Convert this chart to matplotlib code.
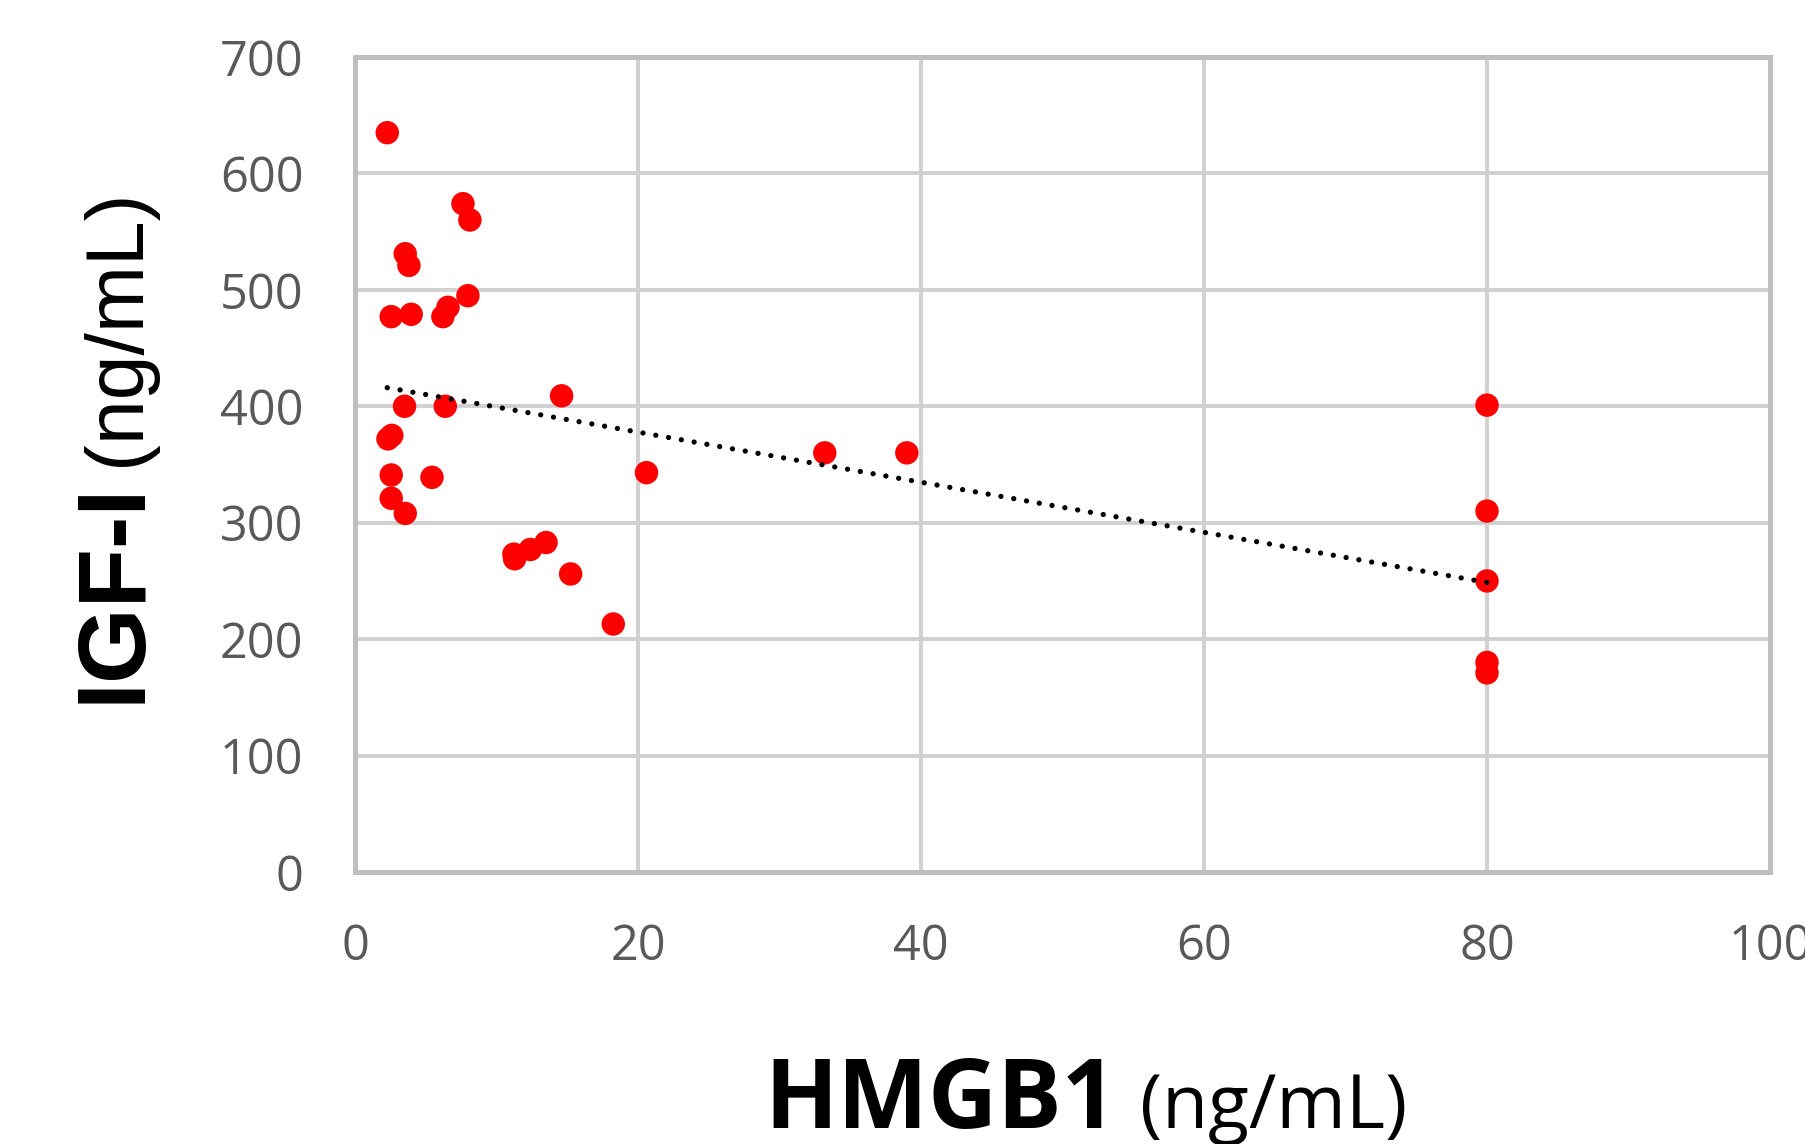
import numpy as np
import matplotlib
matplotlib.use("Agg")
import matplotlib.pyplot as plt

# HMGB1 (ng/mL) vs IGF-I (ng/mL)
hmgb1 = [2.28, 7.63, 8.12, 3.55, 3.81, 2.56, 3.97, 6.21, 6.57, 7.98,
         3.5, 6.38, 14.6, 2.33, 2.6, 2.56, 5.44, 2.56, 3.55,
         11.23, 11.28, 12.39, 13.5, 15.24, 18.25, 20.6, 33.2, 39.0,
         80, 80, 80, 80, 80]
igf1 = [635, 574, 560, 531, 521, 477, 479, 477, 485, 495,
        400, 400, 409, 372, 375, 341, 339, 321, 308,
        273, 269, 277, 283, 256, 213, 343, 360, 360,
        401, 310, 250, 180, 171]
x_ticks = [0, 20, 40, 60, 80, 100]
y_ticks = [0, 100, 200, 300, 400, 500, 600, 700]

W, H = 1806, 1144
fig = plt.figure(figsize=(W / 100, H / 100), dpi=100, facecolor="white")
ax = fig.add_axes([355 / W, 1 - 872 / H, (1770 - 355) / W, (872 - 57) / H])

ax.scatter(hmgb1, igf1, s=285, color="#ff0000", edgecolors="none", zorder=3)

# linear trendline (Excel style, dotted)
slope, icpt = np.polyfit(hmgb1, igf1, 1)
xs = np.array([min(hmgb1), max(hmgb1)])
ax.plot(xs, slope * xs + icpt, color="black", lw=3.8, ls=(0, (0.01, 2.45)),
        dash_capstyle="round", zorder=4)

ax.set_xlim(0, 100)
ax.set_ylim(0, 700)
ax.set_xticks(x_ticks)
ax.set_yticks(y_ticks)
ax.grid(True, color="#d0d0d0", lw=2.8, zorder=0)
ax.set_axisbelow(True)
for sp in ax.spines.values():
    sp.set_color("#bfbfbf")
    sp.set_linewidth(3.6)
ax.tick_params(length=0, labelsize=35, labelcolor="#595959")
ax.tick_params(axis="x", pad=36)
ax.tick_params(axis="y", pad=37)
for lab in ax.get_xticklabels() + ax.get_yticklabels():
    lab.set_fontfamily("Open Sans")

# x label: bold name + regular unit
fig.canvas.draw()
r = fig.canvas.get_renderer()
tx1 = fig.text(764 / W, 1 - 1128 / H, "HMGB1", ha="left", va="baseline",
               fontsize=69, fontweight="bold", family="Open Sans")
bb = tx1.get_window_extent(r)
fig.text((bb.x1 + 24) / W, 1 - 1128 / H, "(ng/mL)", ha="left", va="baseline",
         fontsize=54, family="Open Sans")

# y label, rotated
ty1 = fig.text(140 / W, 1 - 703 / H, "IGF-I", rotation=90, rotation_mode="anchor",
               ha="left", va="baseline", fontsize=70, fontweight="bold",
               family="Liberation Sans")
bb = ty1.get_window_extent(r)
fig.text(139 / W, (bb.y1 + 16) / H, "(ng/mL)", rotation=90, rotation_mode="anchor",
         ha="left", va="baseline", fontsize=58, family="Liberation Sans")

fig.savefig("out.png", dpi=100, facecolor="white")
